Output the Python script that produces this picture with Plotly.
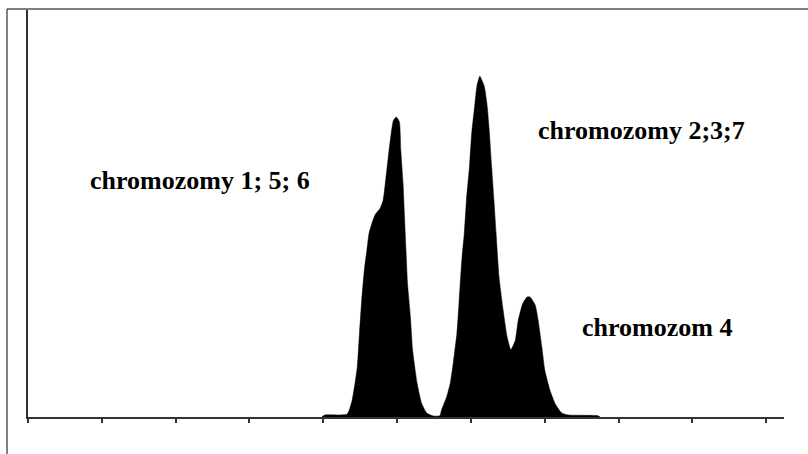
import plotly.graph_objects as go

# DNA-content histogram (channel vs. count)
channel = [398, 402, 423, 432, 435, 439, 443, 446, 449, 452, 456, 459, 462, 466, 470,
           477, 481, 484, 488, 492, 495, 499, 503, 505, 508, 510, 512, 514, 518, 521,
           527, 533, 540, 549, 558, 560, 567, 572, 576, 581, 584, 588, 591, 594, 598,
           601, 605, 608, 612, 618, 622, 625, 628, 631, 634, 636, 638, 643, 649, 654,
           660, 664, 670, 676, 680, 687, 691, 696, 700, 707, 714, 723, 732, 772, 775]
count = [0, 3, 3, 4, 10, 25, 51, 75, 126, 175, 225, 250, 276, 291, 303,
         313, 325, 351, 390, 426, 445, 450, 443, 400, 351, 300, 250, 201, 150, 100,
         51, 21, 6, 1.5, 2, 10, 30, 51, 81, 126, 175, 241, 276, 327, 376,
         426, 466, 496, 511, 496, 466, 426, 376, 327, 276, 241, 210, 165, 120, 101,
         115, 145, 170, 180, 180, 168, 145, 105, 70, 40, 20, 6, 3, 2, 0]

x_ticks = [0, 100, 200, 300, 400, 500, 600, 700, 800, 900, 1000]

labels = ["chromozomy 1; 5; 6", "chromozomy 2;3;7", "chromozom 4"]
label_x = [233, 831, 852]
label_y = [355, 430, 134]

fig = go.Figure()
fig.add_trace(go.Scatter(
    x=channel, y=count, mode="lines", fill="tozeroy",
    fillcolor="black", line=dict(color="black", width=0.5, shape="spline", smoothing=0.5),
    hoverinfo="skip", showlegend=False,
))

for t, lx, ly in zip(labels, label_x, label_y):
    fig.add_annotation(x=lx, y=ly, text=t, showarrow=False, xanchor="center", yanchor="middle",
                       font=dict(family="Liberation Serif, Times New Roman, serif", size=26,
                                 color="black", weight="bold"))

axis_col = "#333333"
fig.update_xaxes(range=[0, 1024], tickmode="array", tickvals=x_ticks, showticklabels=False,
                 ticks="outside", ticklen=4, tickwidth=1.5, tickcolor=axis_col,
                 showline=True, linecolor=axis_col, linewidth=1.5,
                 showgrid=False, zeroline=False, fixedrange=True)
fig.update_yaxes(range=[0, 610.5], showticklabels=False, ticks="",
                 showline=True, linecolor=axis_col, linewidth=1.5,
                 showgrid=False, zeroline=False, fixedrange=True)

# outer frame (left and top edges of the enclosing box)
fig.add_shape(type="line", xref="paper", yref="paper", x0=-0.0278, x1=-0.0278, y0=1.0025, y1=-0.1,
              line=dict(color="#555555", width=1.5))
fig.add_shape(type="line", xref="paper", yref="paper", x0=-0.0278, x1=1.04, y0=1.0025, y1=1.0025,
              line=dict(color="#555555", width=1.5))

fig.update_layout(width=808, height=454, margin=dict(l=28, r=24, t=10, b=37),
                  paper_bgcolor="white", plot_bgcolor="white")

fig.write_html("out.html", config={"displayModeBar": False},
               post_script="document.body.style.margin='0';document.body.style.overflow='hidden';")
